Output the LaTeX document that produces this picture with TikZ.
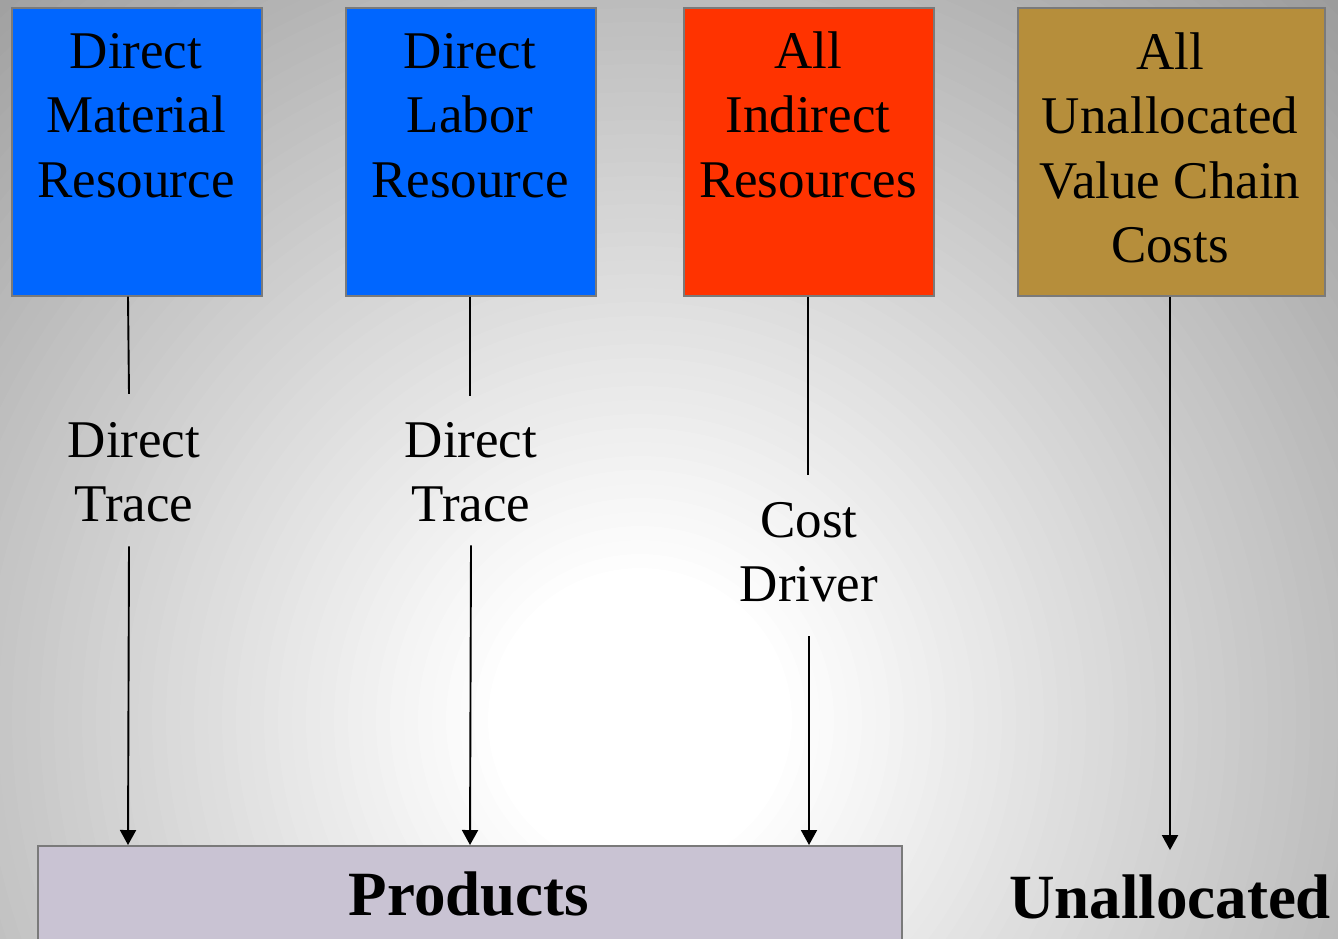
\documentclass[tikz,border=0pt]{standalone}
\usepackage{fontspec}
\setmainfont{Liberation Serif}
\usetikzlibrary{arrows.meta}
\definecolor{blueres}{HTML}{0066FF}
\definecolor{redres}{HTML}{FF3300}
\definecolor{goldres}{HTML}{B68E3B}
\definecolor{prodfill}{HTML}{C9C3D3}
\definecolor{edgegray}{HTML}{7A7A7A}
\begin{document}
\begin{tikzpicture}[x=1pt,y=-1pt,
  resbox/.style={draw=edgegray, line width=1.6pt, minimum width=250pt, minimum height=288pt, inner sep=0pt, anchor=north west},
  boxtext/.style={anchor=north, align=center, inner sep=0pt, font=\fontsize{53}{64.5}\selectfont},
  lbl/.style={anchor=north, align=center, inner sep=0pt, font=\fontsize{53}{64.5}\selectfont},
  conn/.style={line width=1.9pt, black},
  arr/.style={conn, -{Triangle[length=15pt,width=16pt]}},
  bigbold/.style={font=\fontsize{63}{70}\selectfont\bfseries, inner sep=0pt, anchor=base}
]
\useasboundingbox (0,0) rectangle (1338,938);
\begin{scope}
  \clip (0,0) rectangle (1338,938);
  \fill[black!39] (0,0) rectangle (1338,938);
  \foreach \i in {0,...,62} {
    \pgfmathsetmacro\rr{1020-\i*14}
    \pgfmathsetmacro\bb{max(0,(\rr-150)*0.0453)}
    \fill[black!\bb] (640,720) circle (\rr);
  }
  \fill[white] (640,720) circle (150);
\end{scope}
% resource boxes
\node[resbox, fill=blueres] (b1) at (11,7) {};
\node[resbox, fill=blueres] (b2) at (345,7) {};
\node[resbox, fill=redres] (b3) at (683,7) {};
\node[resbox, fill=goldres, minimum width=307pt] (b4) at (1017,7) {};
\node[boxtext] (t1) at (136,{68-45.15}) {\strut Direct\\\strut Material\\\strut Resource};
\node[boxtext] (t2) at (470,{68-45.15}) {\strut Direct\\\strut Labor\\\strut Resource};
\node[boxtext] (t3) at (808,{68-45.15}) {\strut All\\\strut Indirect\\\strut Resources};
\node[boxtext] (t4) at (1170,{69-45.15}) {\strut All\\\strut Unallocated\\\strut Value Chain\\\strut Costs};
% products box
\node[draw=edgegray, line width=1.6pt, fill=prodfill, minimum width=864pt, minimum height=110pt, inner sep=0pt, anchor=north west] (prod) at (37,845) {};
\node[bigbold] (prodtext) at (469,915) {Products};
\node[bigbold] (unalloc) at (1170,918) {Unallocated};
% labels
\node[lbl] (l1) at (134,{457-45.15}) {\strut Direct\\\strut Trace};
\node[lbl] (l2) at (471,{457-45.15}) {\strut Direct\\\strut Trace};
\node[lbl] (l3) at (809,{537-45.15}) {\strut Cost\\\strut Driver};
% connectors
\draw[conn] (b1.south -| 128,0) -- ([yshift=18pt]l1.north -| 129,0);
\draw[arr] ([yshift=-5pt]l1.south -| 129,0) -- (prod.north -| 128,0);
\draw[conn] (b2.south -| 470,0) -- ([yshift=16pt]l2.north -| 470,0);
\draw[arr] ([yshift=-4pt]l2.south -| 471,0) -- (prod.north -| 470,0);
\draw[conn] (b3.south -| 808,0) -- ([yshift=17pt]l3.north -| 808,0);
\draw[arr] ([yshift=-15pt]l3.south -| 809,0) -- (prod.north -| 809,0);
\draw[arr] (b4.south -| 1170,0) -- ([yshift=24pt]unalloc.north);
\end{tikzpicture}
\end{document}
